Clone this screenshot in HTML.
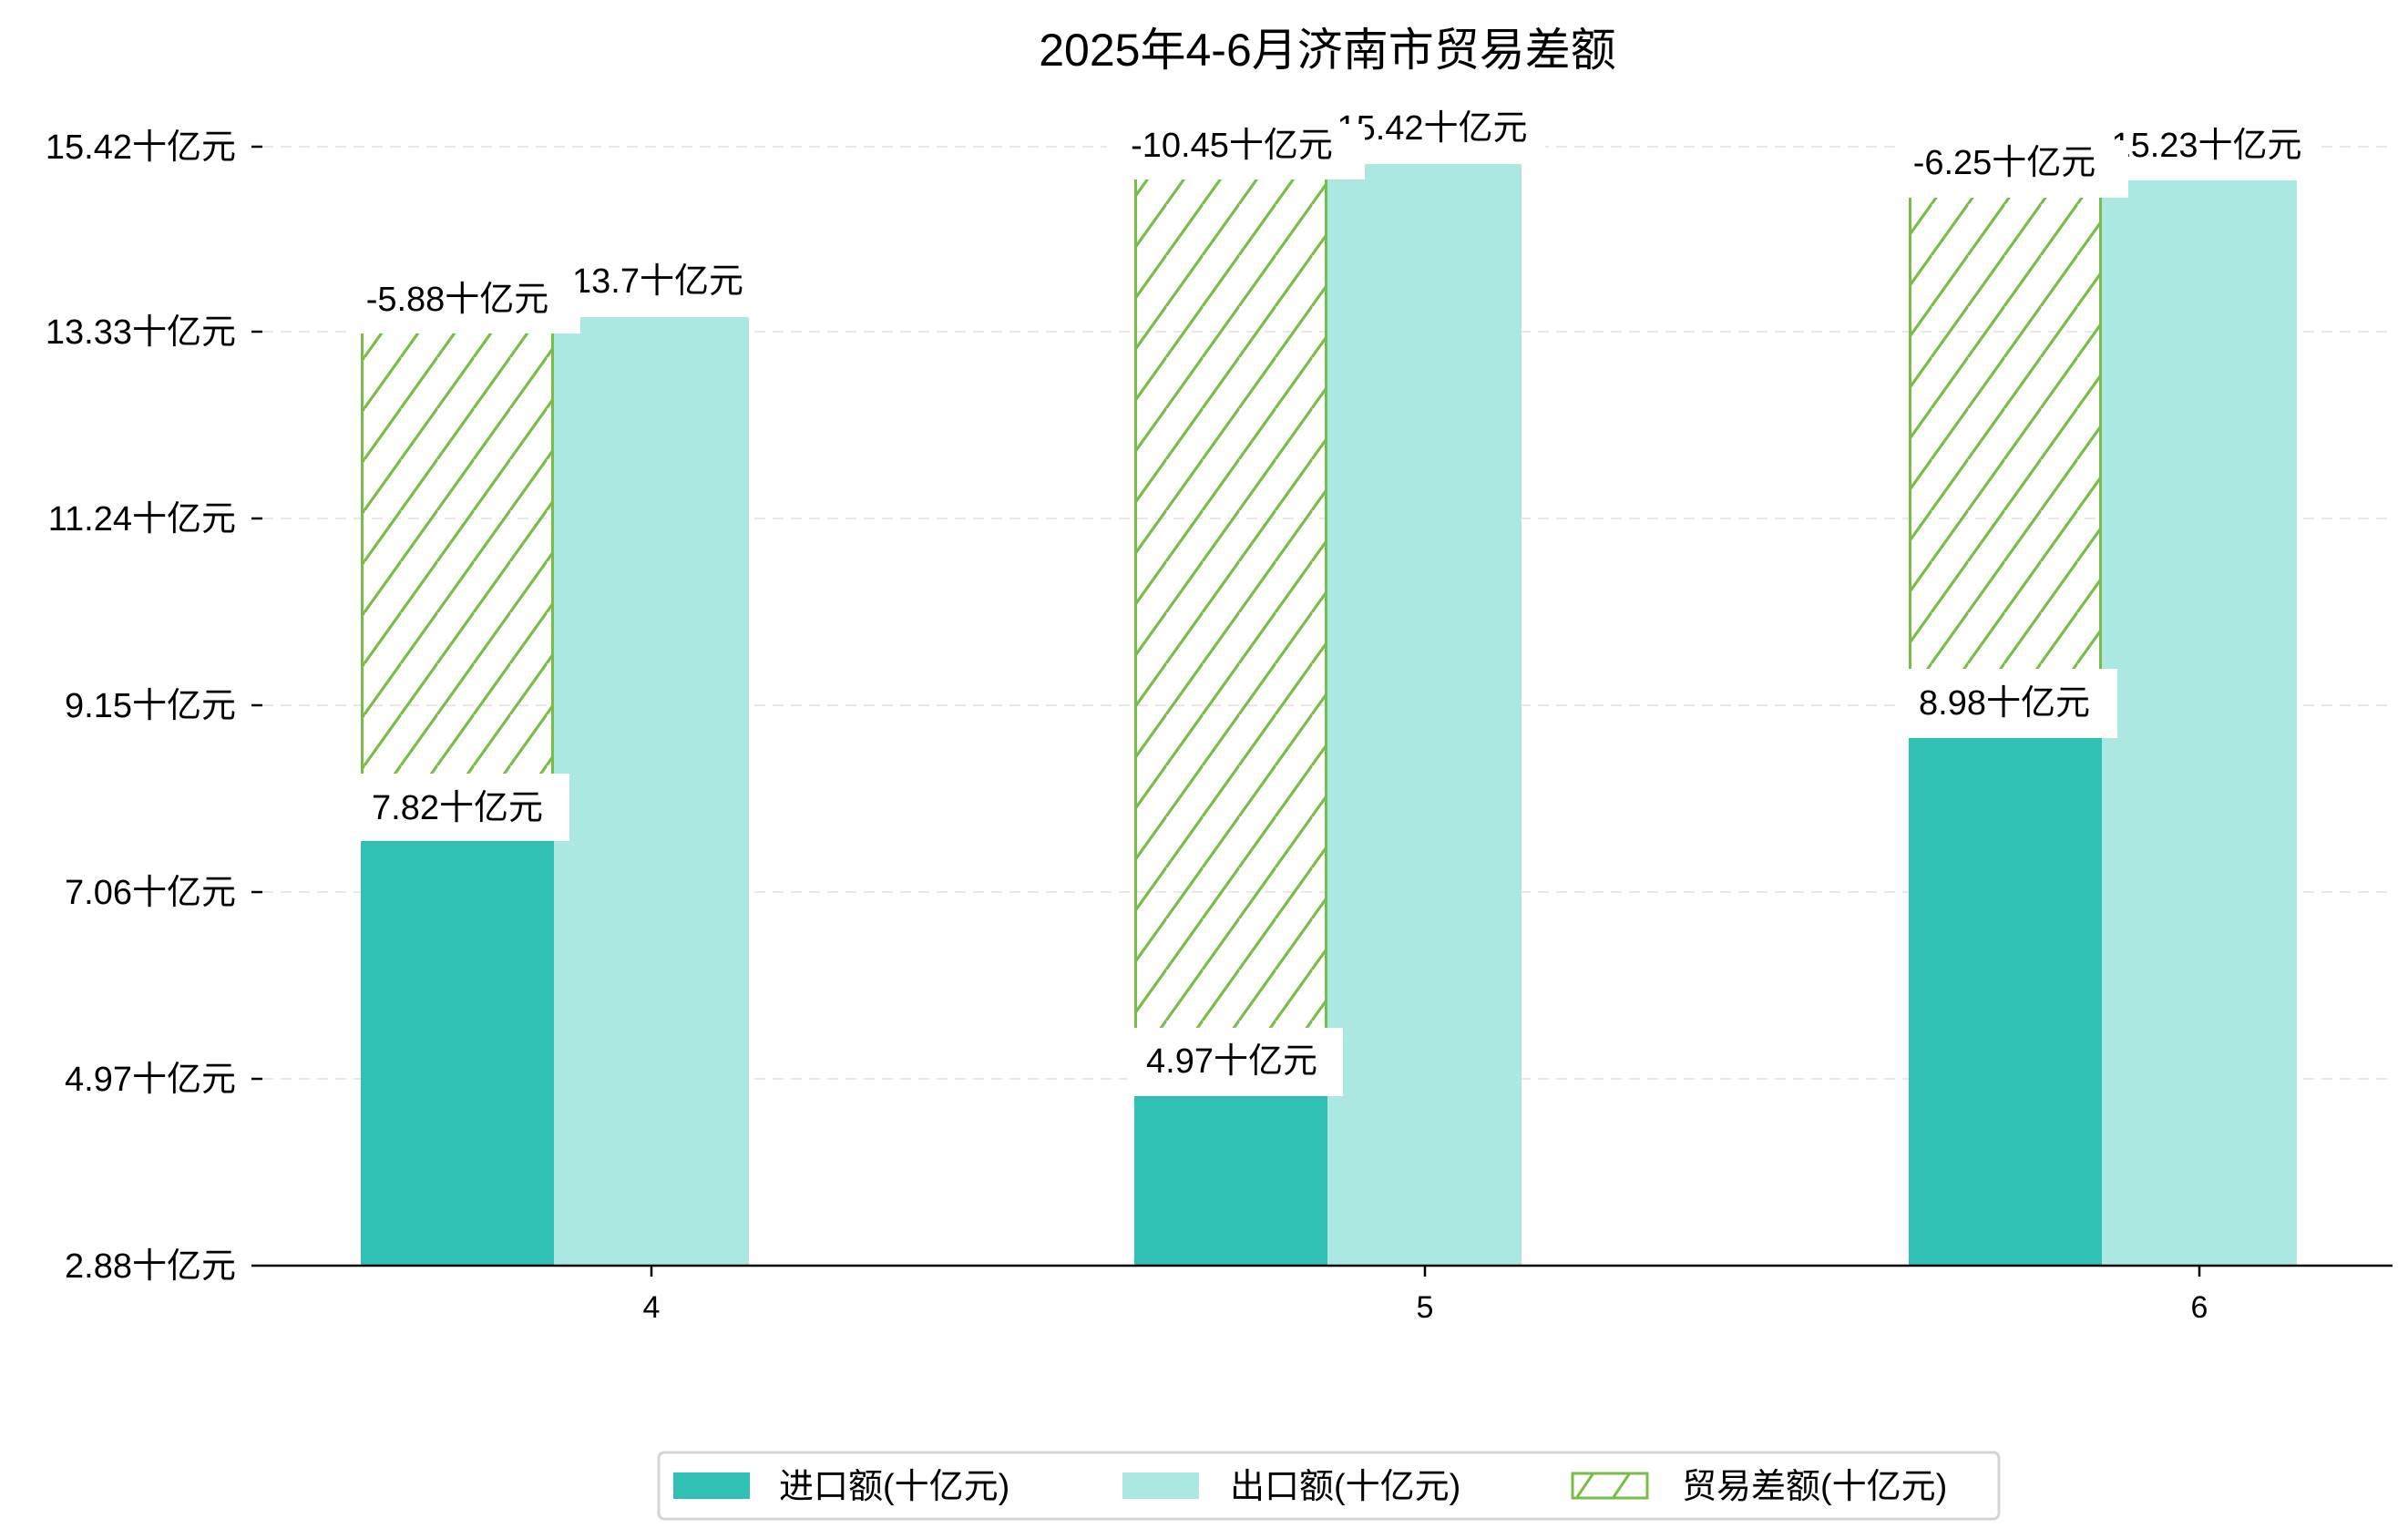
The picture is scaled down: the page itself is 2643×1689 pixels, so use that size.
<!DOCTYPE html>
<html><head><meta charset="utf-8"><style>
html,body{margin:0;padding:0;background:#fff;}
svg{display:block;font-family:"Liberation Sans","Noto Sans CJK SC",sans-serif;}
</style></head><body>
<svg width="2643" height="1689" viewBox="0 0 2643 1689" xmlns="http://www.w3.org/2000/svg">
<defs>
<pattern id="h" patternUnits="userSpaceOnUse" width="40" height="56">
<line x1="-40" y1="112" x2="40" y2="0" stroke="#78bd45" stroke-width="3"/>
<line x1="0" y1="112" x2="80" y2="0" stroke="#78bd45" stroke-width="3"/>
<line x1="-40" y1="56" x2="0" y2="0" stroke="#78bd45" stroke-width="3"/>
<line x1="0" y1="56" x2="40" y2="0" stroke="#78bd45" stroke-width="3"/>
</pattern>
</defs>
<text x="1457" y="72" font-size="50" text-anchor="middle" fill="#000">2025年4-6月济南市贸易差额</text>
<g stroke="#e8e8e8" stroke-width="2" stroke-dasharray="12,8">
<line x1="288" y1="161" x2="2626" y2="161"/><line x1="288" y1="364" x2="2626" y2="364"/>
<line x1="288" y1="569" x2="2626" y2="569"/><line x1="288" y1="774" x2="2626" y2="774"/>
<line x1="288" y1="979" x2="2626" y2="979"/><line x1="288" y1="1184" x2="2626" y2="1184"/>
</g>
<g stroke="#000" stroke-width="2.5">
<line x1="276" y1="161" x2="288" y2="161"/><line x1="276" y1="364" x2="288" y2="364"/>
<line x1="276" y1="569" x2="288" y2="569"/><line x1="276" y1="774" x2="288" y2="774"/>
<line x1="276" y1="979" x2="288" y2="979"/><line x1="276" y1="1184" x2="288" y2="1184"/>
</g>
<g font-size="38" text-anchor="end" fill="#000">
<text x="259" y="174">15.42十亿元</text><text x="259" y="377">13.33十亿元</text>
<text x="259" y="582">11.24十亿元</text><text x="259" y="787">9.15十亿元</text>
<text x="259" y="992">7.06十亿元</text><text x="259" y="1197">4.97十亿元</text>
<text x="259" y="1402">2.88十亿元</text>
</g>
<rect x="396" y="904" width="212" height="485" fill="#31c1b4"/>
<rect x="608" y="347" width="214" height="1042" fill="#abe8e2"/>
<rect x="397.5" y="347" width="209" height="557" fill="url(#h)" stroke="#78bd45" stroke-width="3"/>
<rect x="1245" y="1184" width="212" height="205" fill="#31c1b4"/>
<rect x="1457" y="178" width="213" height="1211" fill="#abe8e2"/>
<rect x="1246.5" y="178" width="209" height="1006" fill="url(#h)" stroke="#78bd45" stroke-width="3"/>
<rect x="2095" y="791" width="212" height="598" fill="#31c1b4"/>
<rect x="2307" y="197" width="214" height="1192" fill="#abe8e2"/>
<rect x="2096.5" y="197" width="209" height="594" fill="url(#h)" stroke="#78bd45" stroke-width="3"/>
<line x1="276" y1="1389" x2="2626" y2="1389" stroke="#000" stroke-width="2.5"/>
<g stroke="#000" stroke-width="2.5">
<line x1="715" y1="1389" x2="715" y2="1401"/><line x1="1564" y1="1389" x2="1564" y2="1401"/><line x1="2414" y1="1389" x2="2414" y2="1401"/>
</g>
<g font-size="34" text-anchor="middle" fill="#000">
<text x="715" y="1446">4</text><text x="1564" y="1446">5</text><text x="2414" y="1446">6</text>
</g>
<g font-size="38" text-anchor="middle" fill="#000">
<rect x="602" y="284" width="234" height="64" fill="#fff"/><text x="722" y="321">13.7十亿元</text>
<rect x="1446" y="116" width="250" height="64" fill="#fff"/><text x="1572" y="153">15.42十亿元</text>
<rect x="2296" y="134" width="250" height="64" fill="#fff"/><text x="2422" y="172">15.23十亿元</text>
<rect x="383" y="305" width="254" height="61" fill="#fff"/><text x="502" y="341">-5.88十亿元</text>
<rect x="1215" y="136" width="283" height="61" fill="#fff"/><text x="1352" y="172">-10.45十亿元</text>
<rect x="2082" y="154" width="254" height="63" fill="#fff"/><text x="2200" y="191">-6.25十亿元</text>
<rect x="388" y="849" width="237" height="74" fill="#fff"/><text x="502" y="899">7.82十亿元</text>
<rect x="1237" y="1128" width="237" height="75" fill="#fff"/><text x="1352" y="1177">4.97十亿元</text>
<rect x="2087" y="734" width="237" height="76" fill="#fff"/><text x="2200" y="784">8.98十亿元</text>
</g>
<rect x="723" y="1594" width="1471" height="73" rx="6" fill="#fff" stroke="#d4d4d4" stroke-width="3"/>
<rect x="739" y="1616" width="84" height="29" fill="#31c1b4"/>
<rect x="1232" y="1616" width="84" height="29" fill="#abe8e2"/>
<rect x="1726" y="1617" width="82" height="27" fill="#fff" stroke="#78bd45" stroke-width="3"/>
<line x1="1731" y1="1643" x2="1748" y2="1618" stroke="#78bd45" stroke-width="3"/>
<line x1="1771" y1="1643" x2="1788" y2="1618" stroke="#78bd45" stroke-width="3"/>
<g font-size="38" fill="#000">
<text x="855" y="1644">进口额(十亿元)</text>
<text x="1350" y="1644">出口额(十亿元)</text>
<text x="1846" y="1644">贸易差额(十亿元)</text>
</g>
</svg>
</body></html>
